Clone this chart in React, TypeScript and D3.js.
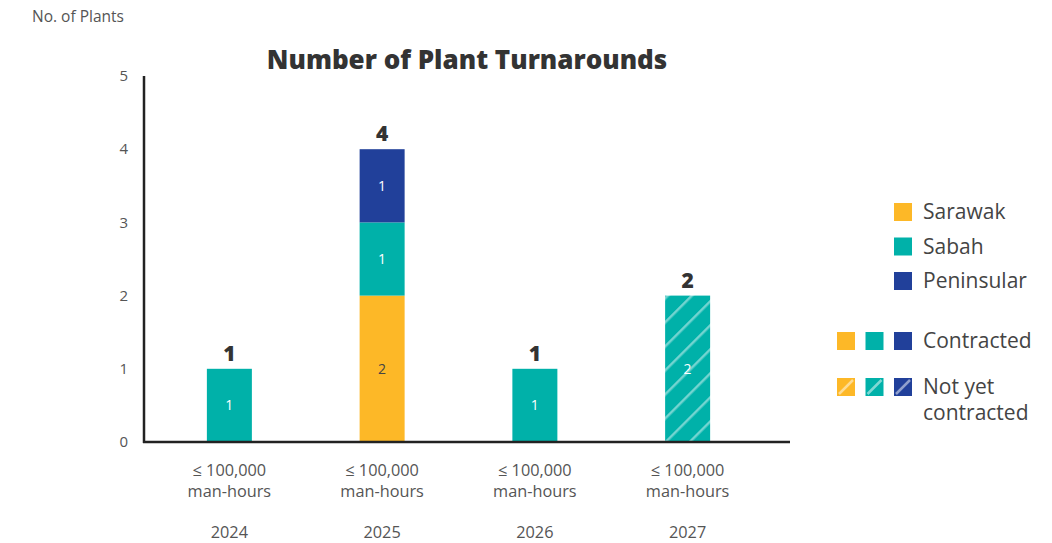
import React from "react";
import * as d3 from "d3";

const years = ["2024", "2025", "2026", "2027"];
const subLabel = ["≤ 100,000", "man-hours"];
const regions = ["Sarawak", "Sabah", "Peninsular"];
const regionColors = ["#FDB827", "#00B1A9", "#21409A"];
// values per year: [Sarawak, Sabah, Peninsular]
const sarawak = [0, 2, 0, 0];
const sabah = [1, 1, 1, 2];
const peninsular = [0, 1, 0, 0];
const contracted = [true, true, true, false];
const yTicks = [0, 1, 2, 3, 4, 5];

const W = 1052;
const H = 543;
const FONT = "'Open Sans', sans-serif";

export default function App() {
  const x = d3.scaleBand<string>().domain(years).range([153, 764]).paddingInner(0.705).paddingOuter(0.3525);
  const y = d3.scaleLinear().domain([0, 5]).range([442, 76]);
  const rows = years.map((yr, i) => ({ year: yr, Sarawak: sarawak[i], Sabah: sabah[i], Peninsular: peninsular[i] }));
  const stack = d3.stack<any>().keys(regions)(rows);
  const bw = 45;

  return (
    <svg width={W} height={H} style={{ position: "absolute", left: 0, top: 0, background: "#fff" }} fontFamily={FONT}>
      <defs>
        {regionColors.map((c, i) => (
          <pattern key={i} id={`hatch${i}`} patternUnits="userSpaceOnUse" width={17} height={17} patternTransform="rotate(45)">
            <rect width={17} height={17} fill={c} />
            <rect x={0} y={0} width={2.5} height={17} fill="#ffffff" fillOpacity={0.45} />
          </pattern>
        ))}
      </defs>
      <text x={32} y={22} fontSize={15.5} fill="#555">No. of Plants</text>
      <text x={467} y={69} fontSize={26} fontWeight={800} fill="#333" textAnchor="middle">Number of Plant Turnarounds</text>

      {yTicks.map((t) => (
        <text key={t} x={128} y={y(t)} dy="0.35em" fontSize={15} fill="#555" textAnchor="end">{t}</text>
      ))}

      {stack.map((layer, li) =>
        layer.map((d, i) => {
          const v = d[1] - d[0];
          if (v <= 0) return null;
          const cx = (x(years[i]) as number) + x.bandwidth() / 2;
          const y0 = y(d[0]);
          const y1 = y(d[1]);
          return (
            <g key={`${li}-${i}`}>
              <rect x={cx - bw / 2} y={y1} width={bw} height={y0 - y1} fill={contracted[i] ? regionColors[li] : `url(#hatch${li})`} />
              <text x={cx} y={(y0 + y1) / 2} dy="0.35em" fontSize={14} textAnchor="middle" fill={li === 0 ? "#444" : "#fff"}>{v}</text>
            </g>
          );
        })
      )}

      {years.map((yr, i) => {
        const total = sarawak[i] + sabah[i] + peninsular[i];
        const cx = (x(yr) as number) + x.bandwidth() / 2;
        return (
          <g key={yr}>
            <text x={cx} y={y(total) - 8} fontSize={21} fontWeight={800} fill="#333" textAnchor="middle">{total}</text>
            <text x={cx} y={476} fontSize={16.3} fill="#555" textAnchor="middle">{subLabel[0]}</text>
            <text x={cx} y={497} fontSize={16.3} fill="#555" textAnchor="middle">{subLabel[1]}</text>
            <text x={cx} y={538} fontSize={16.3} fill="#555" textAnchor="middle">{yr}</text>
          </g>
        );
      })}

      <line x1={144} x2={144} y1={76} y2={443} stroke="#222" strokeWidth={2.5} />
      <line x1={143} x2={790} y1={442} y2={442} stroke="#222" strokeWidth={2.5} />

      {regions.map((r, i) => (
        <g key={r}>
          <rect x={894} y={203 + i * 34.5} width={18} height={18} fill={regionColors[i]} />
          <text x={923} y={212 + i * 34.5} dy="0.35em" fontSize={21} fill="#444">{r}</text>
        </g>
      ))}
      {regionColors.map((c, i) => (
        <g key={c}>
          <rect x={837 + i * 28.5} y={332} width={18} height={18} fill={c} />
          <rect x={837 + i * 28.5} y={378} width={18} height={18} fill={c} />
          <line x1={837 + i * 28.5 + 2} y1={394} x2={837 + i * 28.5 + 16} y2={380} stroke="#fff" strokeOpacity={0.5} strokeWidth={2.5} />
        </g>
      ))}
      <text x={923} y={341} dy="0.35em" fontSize={21} fill="#444">Contracted</text>
      <text x={923} y={387} dy="0.35em" fontSize={21} fill="#444">Not yet</text>
      <text x={923} y={413} dy="0.35em" fontSize={21} fill="#444">contracted</text>
    </svg>
  );
}
